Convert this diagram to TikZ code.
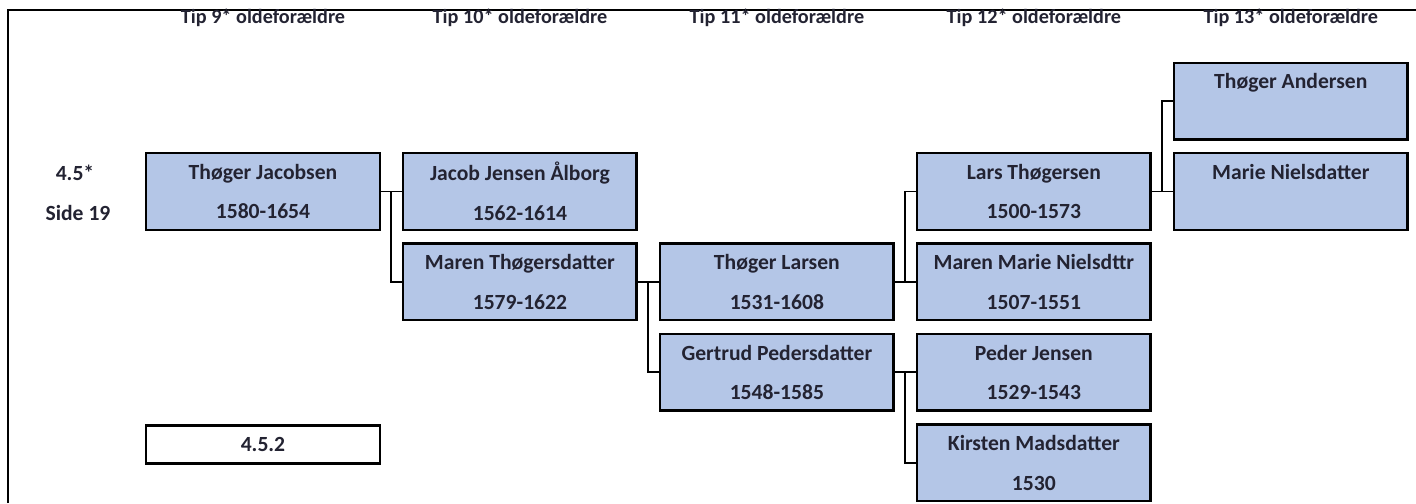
\documentclass[tikz,border=0pt]{standalone}
\usepackage{fontspec}
\setmainfont{Carlito}
\usepackage{tikz}
\usetikzlibrary{positioning,calc}
\usepackage{xcolor}
\definecolor{anefill}{RGB}{180,198,231}
\definecolor{anetext}{RGB}{35,35,50}

\begin{document}
\begin{tikzpicture}[
    node distance=0.23cm and 0.42cm,
    anebox/.style={rectangle, draw=black, fill=anefill, line width=1.4pt, minimum width=4.67cm, minimum height=1.53cm, align=center, text=anetext, font=\fontsize{12.3}{22.5}\selectfont\bfseries},
    numbox/.style={rectangle, draw=black, fill=white, line width=1.2pt, minimum width=4.67cm, minimum height=0.76cm, text=anetext, font=\fontsize{12.3}{14}\selectfont\bfseries},
    headtext/.style={text=anetext, font=\fontsize{11.5}{14}\selectfont\bfseries},
    sidetext/.style={text=anetext, font=\fontsize{12.3}{14}\selectfont\bfseries},
    link/.style={line width=1.1pt}
]
\useasboundingbox (0,0) rectangle (28.32,-10.06);
\draw[line width=1.2pt] (0.16,-10.06) -- (0.16,-0.2) -- (28.32,-0.2);

\node[anebox, anchor=north west] (tj) at (2.9,-3.04) {Thøger Jacobsen \\ 1580-1654};
\node[anebox, right=of tj] (jj) {Jacob Jensen Ålborg \\ 1562-1614};
\node[anebox, below=of jj] (mt) {Maren Thøgersdatter \\ 1579-1622};
\node[anebox, right=of mt] (tl) {Thøger Larsen \\ 1531-1608};
\node[anebox, below=of tl] (gp) {Gertrud Pedersdatter \\ 1548-1585};
\node[anebox, right=of tl] (mm) {Maren Marie Nielsdttr \\ 1507-1551};
\node[anebox, above=of mm] (lt) {Lars Thøgersen \\ 1500-1573};
\node[anebox, right=of gp] (pj) {Peder Jensen \\ 1529-1543};
\node[anebox, below=of pj] (km) {Kirsten Madsdatter \\ 1530};
\node[anebox, right=of lt] (mn) {Marie Nielsdatter \\ \mbox{}};
\node[anebox, above=of mn] (ta) {Thøger Andersen \\ \mbox{}};

\node[numbox, anchor=north] (num) at ($(tj.south)+(0,-3.87)$) {4.5.2};

\node[sidetext] (ref) at (1.5,-3.46) {4.5*};
\node[sidetext] (side) at (1.56,-4.26) {Side 19};

\node[headtext] (h9) at (tj |- 0,-0.36) {Tip 9* oldeforældre};
\node[headtext] (h10) at (jj |- 0,-0.36) {Tip 10* oldeforældre};
\node[headtext] (h11) at (tl |- 0,-0.36) {Tip 11* oldeforældre};
\node[headtext] (h12) at (lt |- 0,-0.36) {Tip 12* oldeforældre};
\node[headtext] (h13) at (ta |- 0,-0.36) {Tip 13* oldeforældre};

% forks to the parents
\draw[link] (tj.east) -- (jj.west);
\draw[link] ($(tj.east)!0.5!(jj.west)$) |- (mt.west);
\draw[link] (mt.east) -- (tl.west);
\draw[link] ($(mt.east)!0.5!(tl.west)$) |- (gp.west);
\draw[link] (tl.east) -- (mm.west);
\draw[link] ($(tl.east)!0.5!(mm.west)$) |- (lt.west);
\draw[link] (gp.east) -- (pj.west);
\draw[link] ($(gp.east)!0.5!(pj.west)$) |- (km.west);
\draw[link] (lt.east) -- (mn.west);
\draw[link] ($(lt.east)!0.5!(mn.west)$) |- (ta.west);
\end{tikzpicture}
\end{document}
